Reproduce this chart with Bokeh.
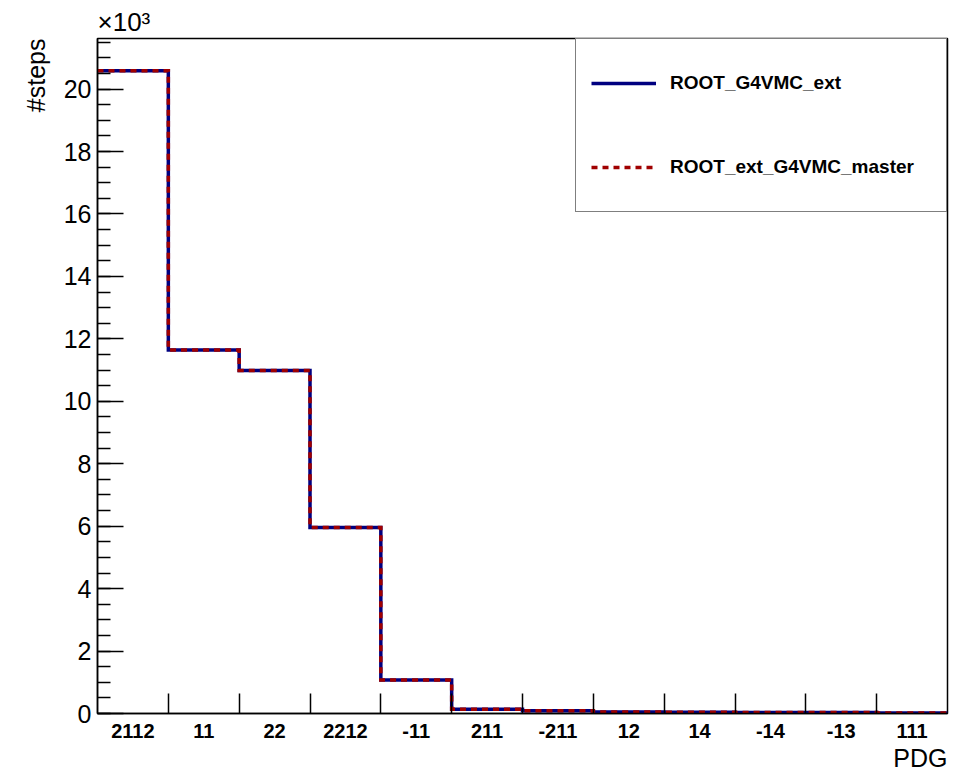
import numpy as np
from bokeh.plotting import figure
from bokeh.models import (Range1d, FixedTicker, SingleIntervalTicker, Legend,
                          LegendItem, Title)
from bokeh.embed import file_html
from bokeh.resources import INLINE

# PDG codes of the particles (one histogram bin each)
pdg_labels = ["2112", "11", "22", "2212", "-11", "211", "-211", "12", "14",
              "-14", "-13", "111"]
# number of steps per particle, in units of 10^3
g4vmc_ext = [20.59, 11.64, 10.99, 5.96, 1.07, 0.14, 0.09, 0.05, 0.04, 0.03,
             0.03, 0.02]
ext_g4vmc_master = [20.59, 11.64, 10.99, 5.96, 1.07, 0.14, 0.09, 0.05, 0.04,
                    0.03, 0.03, 0.02]

nbins = len(pdg_labels)
edges = np.arange(nbins + 1, dtype=float)
centers = edges[:-1] + 0.5

FONT = "Liberation Sans"
BLUE = "#000080"
RED = "#a00000"

p = figure(width=962, height=776, output_backend="svg", toolbar_location=None,
           x_range=Range1d(0, nbins), y_range=Range1d(0, 21.62),
           min_border_left=97, min_border_right=15, min_border_top=38,
           min_border_bottom=63)
p.xgrid.visible = False
p.ygrid.visible = False
p.outline_line_color = "black"
p.outline_line_width = 1.5
p.background_fill_color = "white"
p.border_fill_color = "white"


def side_text(text, align, standoff, size="25px"):
    return Title(text=text, align=align, standoff=standoff, text_font=FONT,
                 text_font_size=size, text_font_style="normal",
                 text_color="black")


# exponent of the y axis, above the top-left corner of the frame
p.add_layout(side_text("\u00d710\u00b3", "left", 4, "26px"), "above")
# axis titles at the far ends of the axes
p.add_layout(side_text("PDG", "right", 2), "below")
p.add_layout(side_text("#steps", "right", 22), "left")

# x axis: bin labels at the bin centres, tick marks at the bin edges
xa = p.xaxis[0]
xa.ticker = FixedTicker(ticks=list(centers), minor_ticks=list(edges[1:-1]))
xa.major_label_overrides = {float(c): lab for c, lab in zip(centers, pdg_labels)}
xa.major_tick_in = 0
xa.major_tick_out = 0
xa.minor_tick_in = 20
xa.minor_tick_out = 0
xa.minor_tick_line_color = "black"
xa.minor_tick_line_width = 1.5
xa.axis_line_color = "black"
xa.axis_line_width = 1.5
xa.major_label_text_font = FONT
xa.major_label_text_font_style = "bold"
xa.major_label_text_font_size = "20px"
xa.major_label_text_color = "black"
xa.major_label_standoff = 10

# y axis
ya = p.yaxis[0]
ya.ticker = SingleIntervalTicker(interval=2, num_minor_ticks=4)
ya.major_tick_in = 26
ya.major_tick_out = 0
ya.minor_tick_in = 13
ya.minor_tick_out = 0
ya.major_tick_line_color = "black"
ya.minor_tick_line_color = "black"
ya.major_tick_line_width = 1.5
ya.minor_tick_line_width = 1.5
ya.axis_line_color = "black"
ya.axis_line_width = 1.5
ya.major_label_text_font = FONT
ya.major_label_text_font_size = "25px"
ya.major_label_text_color = "black"
ya.major_label_standoff = 6

# histograms drawn as step outlines
step_x = list(edges)
r_ext = p.step(x=step_x, y=g4vmc_ext + [g4vmc_ext[-1]], mode="after",
               line_color=BLUE, line_width=3.5, line_join="miter")
r_master = p.step(x=step_x, y=ext_g4vmc_master + [ext_g4vmc_master[-1]],
                  mode="after", line_color=RED, line_width=3.5,
                  line_dash="6 5", line_join="miter")

legend = Legend(items=[LegendItem(label="ROOT_G4VMC_ext", renderers=[r_ext]),
                       LegendItem(label="ROOT_ext_G4VMC_master",
                                  renderers=[r_master])],
                location="top_right", margin=0, padding=15, spacing=26,
                label_height=58, glyph_height=20, glyph_width=65,
                label_standoff=14, label_width=261,
                border_line_color="black", border_line_width=1.5,
                background_fill_color="white", background_fill_alpha=1.0,
                label_text_font=FONT, label_text_font_style="bold",
                label_text_font_size="19px", label_text_color="black")
p.add_layout(legend)

open("out.html", "w").write(file_html(p, INLINE))
